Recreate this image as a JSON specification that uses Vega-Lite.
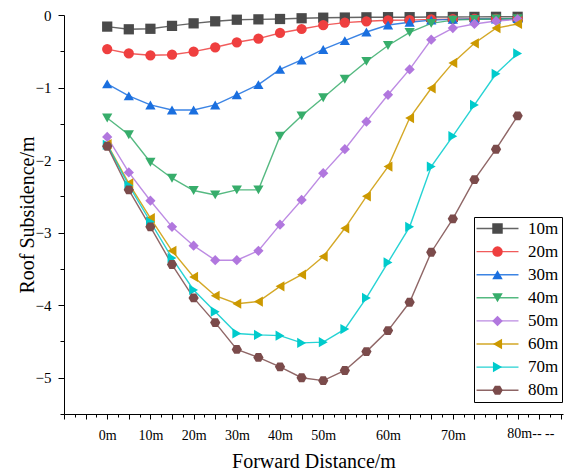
{
  "$schema": "https://vega.github.io/schema/vega-lite/v6.json",
  "width": 499,
  "height": 399,
  "autosize": {"type": "none"},
  "padding": {"left": 64, "top": 15, "right": 1, "bottom": 59},
  "background": "white",
  "config": {
    "view": {"stroke": null},
    "axis": {"domainColor": "black", "tickColor": "black", "labelColor": "black", "titleColor": "black", "labelFont": "Liberation Serif", "titleFont": "Liberation Serif", "grid": false, "titleFontWeight": "normal", "labelFontWeight": "normal"}
  },
  "data": {"values": [
    {"x":0,"s":"10m","v":-0.16},{"x":1,"s":"10m","v":-0.197},{"x":2,"s":"10m","v":-0.19},{"x":3,"s":"10m","v":-0.15},{"x":4,"s":"10m","v":-0.115},{"x":5,"s":"10m","v":-0.087},{"x":6,"s":"10m","v":-0.065},{"x":7,"s":"10m","v":-0.06},{"x":8,"s":"10m","v":-0.055},{"x":9,"s":"10m","v":-0.045},{"x":10,"s":"10m","v":-0.037},{"x":11,"s":"10m","v":-0.035},{"x":12,"s":"10m","v":-0.032},{"x":13,"s":"10m","v":-0.03},{"x":14,"s":"10m","v":-0.03},{"x":15,"s":"10m","v":-0.028},{"x":16,"s":"10m","v":-0.027},{"x":17,"s":"10m","v":-0.026},{"x":18,"s":"10m","v":-0.025},{"x":19,"s":"10m","v":-0.025},
    {"x":0,"s":"20m","v":-0.47},{"x":1,"s":"20m","v":-0.53},{"x":2,"s":"20m","v":-0.555},{"x":3,"s":"20m","v":-0.547},{"x":4,"s":"20m","v":-0.505},{"x":5,"s":"20m","v":-0.445},{"x":6,"s":"20m","v":-0.376},{"x":7,"s":"20m","v":-0.326},{"x":8,"s":"20m","v":-0.248},{"x":9,"s":"20m","v":-0.193},{"x":10,"s":"20m","v":-0.14},{"x":11,"s":"20m","v":-0.105},{"x":12,"s":"20m","v":-0.087},{"x":13,"s":"20m","v":-0.073},{"x":14,"s":"20m","v":-0.07},{"x":15,"s":"20m","v":-0.06},{"x":16,"s":"20m","v":-0.057},{"x":17,"s":"20m","v":-0.055},{"x":18,"s":"20m","v":-0.053},{"x":19,"s":"20m","v":-0.052},
    {"x":0,"s":"30m","v":-0.95},{"x":1,"s":"30m","v":-1.115},{"x":2,"s":"30m","v":-1.24},{"x":3,"s":"30m","v":-1.31},{"x":4,"s":"30m","v":-1.31},{"x":5,"s":"30m","v":-1.24},{"x":6,"s":"30m","v":-1.1},{"x":7,"s":"30m","v":-0.96},{"x":8,"s":"30m","v":-0.75},{"x":9,"s":"30m","v":-0.62},{"x":10,"s":"30m","v":-0.475},{"x":11,"s":"30m","v":-0.354},{"x":12,"s":"30m","v":-0.234},{"x":13,"s":"30m","v":-0.138},{"x":14,"s":"30m","v":-0.1},{"x":15,"s":"30m","v":-0.07},{"x":16,"s":"30m","v":-0.06},{"x":17,"s":"30m","v":-0.055},{"x":18,"s":"30m","v":-0.055},{"x":19,"s":"30m","v":-0.05},
    {"x":0,"s":"40m","v":-1.42},{"x":1,"s":"40m","v":-1.65},{"x":2,"s":"40m","v":-2.03},{"x":3,"s":"40m","v":-2.25},{"x":4,"s":"40m","v":-2.42},{"x":5,"s":"40m","v":-2.48},{"x":6,"s":"40m","v":-2.41},{"x":7,"s":"40m","v":-2.41},{"x":8,"s":"40m","v":-1.67},{"x":9,"s":"40m","v":-1.39},{"x":10,"s":"40m","v":-1.14},{"x":11,"s":"40m","v":-0.886},{"x":12,"s":"40m","v":-0.64},{"x":13,"s":"40m","v":-0.42},{"x":14,"s":"40m","v":-0.24},{"x":15,"s":"40m","v":-0.115},{"x":16,"s":"40m","v":-0.07},{"x":17,"s":"40m","v":-0.06},{"x":18,"s":"40m","v":-0.055},{"x":19,"s":"40m","v":-0.05},
    {"x":0,"s":"50m","v":-1.68},{"x":1,"s":"50m","v":-2.17},{"x":2,"s":"50m","v":-2.56},{"x":3,"s":"50m","v":-2.92},{"x":4,"s":"50m","v":-3.18},{"x":5,"s":"50m","v":-3.38},{"x":6,"s":"50m","v":-3.38},{"x":7,"s":"50m","v":-3.25},{"x":8,"s":"50m","v":-2.89},{"x":9,"s":"50m","v":-2.55},{"x":10,"s":"50m","v":-2.18},{"x":11,"s":"50m","v":-1.85},{"x":12,"s":"50m","v":-1.47},{"x":13,"s":"50m","v":-1.1},{"x":14,"s":"50m","v":-0.75},{"x":15,"s":"50m","v":-0.34},{"x":16,"s":"50m","v":-0.18},{"x":17,"s":"50m","v":-0.124},{"x":18,"s":"50m","v":-0.083},{"x":19,"s":"50m","v":-0.06},
    {"x":0,"s":"60m","v":-1.78},{"x":1,"s":"60m","v":-2.32},{"x":2,"s":"60m","v":-2.8},{"x":3,"s":"60m","v":-3.25},{"x":4,"s":"60m","v":-3.61},{"x":5,"s":"60m","v":-3.87},{"x":6,"s":"60m","v":-3.98},{"x":7,"s":"60m","v":-3.95},{"x":8,"s":"60m","v":-3.74},{"x":9,"s":"60m","v":-3.58},{"x":10,"s":"60m","v":-3.33},{"x":11,"s":"60m","v":-2.94},{"x":12,"s":"60m","v":-2.5},{"x":13,"s":"60m","v":-2.09},{"x":14,"s":"60m","v":-1.42},{"x":15,"s":"60m","v":-1.01},{"x":16,"s":"60m","v":-0.66},{"x":17,"s":"60m","v":-0.39},{"x":18,"s":"60m","v":-0.18},{"x":19,"s":"60m","v":-0.124},
    {"x":0,"s":"70m","v":-1.79},{"x":1,"s":"70m","v":-2.35},{"x":2,"s":"70m","v":-2.85},{"x":3,"s":"70m","v":-3.35},{"x":4,"s":"70m","v":-3.79},{"x":5,"s":"70m","v":-4.09},{"x":6,"s":"70m","v":-4.39},{"x":7,"s":"70m","v":-4.41},{"x":8,"s":"70m","v":-4.42},{"x":9,"s":"70m","v":-4.52},{"x":10,"s":"70m","v":-4.51},{"x":11,"s":"70m","v":-4.33},{"x":12,"s":"70m","v":-3.9},{"x":13,"s":"70m","v":-3.41},{"x":14,"s":"70m","v":-2.92},{"x":15,"s":"70m","v":-2.09},{"x":16,"s":"70m","v":-1.67},{"x":17,"s":"70m","v":-1.24},{"x":18,"s":"70m","v":-0.81},{"x":19,"s":"70m","v":-0.53},
    {"x":0,"s":"80m","v":-1.81},{"x":1,"s":"80m","v":-2.41},{"x":2,"s":"80m","v":-2.92},{"x":3,"s":"80m","v":-3.44},{"x":4,"s":"80m","v":-3.9},{"x":5,"s":"80m","v":-4.24},{"x":6,"s":"80m","v":-4.61},{"x":7,"s":"80m","v":-4.72},{"x":8,"s":"80m","v":-4.85},{"x":9,"s":"80m","v":-5.0},{"x":10,"s":"80m","v":-5.04},{"x":11,"s":"80m","v":-4.9},{"x":12,"s":"80m","v":-4.64},{"x":13,"s":"80m","v":-4.35},{"x":14,"s":"80m","v":-3.96},{"x":15,"s":"80m","v":-3.27},{"x":16,"s":"80m","v":-2.81},{"x":17,"s":"80m","v":-2.27},{"x":18,"s":"80m","v":-1.85},{"x":19,"s":"80m","v":-1.39}
  ]},
  "encoding": {
    "x": {"field": "x", "type": "quantitative", "scale": {"domain": [-2, 21.1], "nice": false, "zero": false},
      "axis": {"title": "Forward Distance/m", "titleFontSize": 20, "titlePadding": 9, "labelFontSize": 14, "labelPadding": 9, "labelOverlap": false, "labelFlush": false, "labelBound": false,
        "values": [-2,-1.5,-1,-0.5,0,0.5,1,1.5,2,2.5,3,3.5,4,4.5,5,5.5,6,6.5,7,7.5,8,8.5,9,9.5,10,10.5,11,11.5,12,12.5,13,13.5,14,14.5,15,15.5,16,16.5,17,17.5,18,18.5,19,19.5,20,20.5,21],
        "labelExpr": "datum.value==0?'0m':datum.value==2?'10m':datum.value==4?'20m':datum.value==6?'30m':datum.value==8?'40m':datum.value==10?'50m':datum.value==13?'60m':datum.value==16?'70m':datum.value==18.5?'80m-- --':''",
        "labelAlign": {"condition": {"test": "datum.value == 18.5", "value": "left"}, "value": "center"},
        "tickSize": {"condition": {"test": "datum.value % 1 == 0", "value": 5}, "value": 3}}},
    "y": {"field": "v", "type": "quantitative", "scale": {"domain": [-5.5, 0], "nice": false, "zero": false},
      "axis": {"title": "Roof Subsidence/m", "titleFontSize": 20, "titlePadding": -2, "labelFontSize": 15, "labelPadding": 7, "labelOverlap": false, "labelBound": false, "labelFlush": false,
        "values": [-5.5,-5,-4.5,-4,-3.5,-3,-2.5,-2,-1.5,-1,-0.5,0],
        "labelExpr": "datum.value==0?'0':datum.value==-1?'−1':datum.value==-2?'−2':datum.value==-3?'−3':datum.value==-4?'−4':datum.value==-5?'−5':''",
        "tickSize": {"condition": {"test": "datum.value % 1 == 0", "value": 6}, "value": 4}}}
  },
  "layer": [
    {
      "mark": {"type": "line", "strokeWidth": 1.4, "strokeOpacity": 0.85},
      "encoding": {
        "stroke": {"field": "s", "type": "nominal",
          "scale": {"domain": ["10m","20m","30m","40m","50m","60m","70m","80m"], "range": ["#4a4a4a","#ef3f3f","#1a6fdf","#37ad6b","#b177de","#cc9900","#00cbcc","#7b4b4b"]},
          "legend": {"orient": "none", "legendX": 410.01, "legendY": 202.01, "title": null, "symbolType": "M-4,0H4", "symbolSize": 110, "symbolStrokeWidth": 1.4, "symbolOpacity": 0.85, "labelFont": "Liberation Serif", "labelFontSize": 17, "labelColor": "white", "labelOffset": 22, "symbolOffset": 12, "rowPadding": 5.1, "padding": 3, "fillColor": "white", "strokeColor": "black", "zindex": 0}}
      }
    },
    {
      "mark": {"type": "point", "filled": true, "size": 105, "opacity": 1},
      "encoding": {
        "color": {"field": "s", "type": "nominal",
          "scale": {"range": ["#4a4a4a","#ef3f3f","#1a6fdf","#37ad6b","#b177de","#cc9900","#00cbcc","#7b4b4b"]},
          "legend": {"orient": "none", "legendX": 410, "legendY": 202, "title": null, "symbolSize": 110, "symbolOpacity": 1, "labelFont": "Liberation Serif", "labelFontSize": 17, "labelColor": "black", "labelOffset": 22, "symbolOffset": 12, "rowPadding": 5.1, "padding": 3, "zindex": 1}},
        "shape": {"field": "s", "type": "nominal",
          "scale": {"range": ["square","circle","triangle-up","triangle-down","diamond","triangle-left","triangle-right","M-1,0L-0.5,-0.866L0.5,-0.866L1,0L0.5,0.866L-0.5,0.866Z"]}}
      }
    }
  ]
}
